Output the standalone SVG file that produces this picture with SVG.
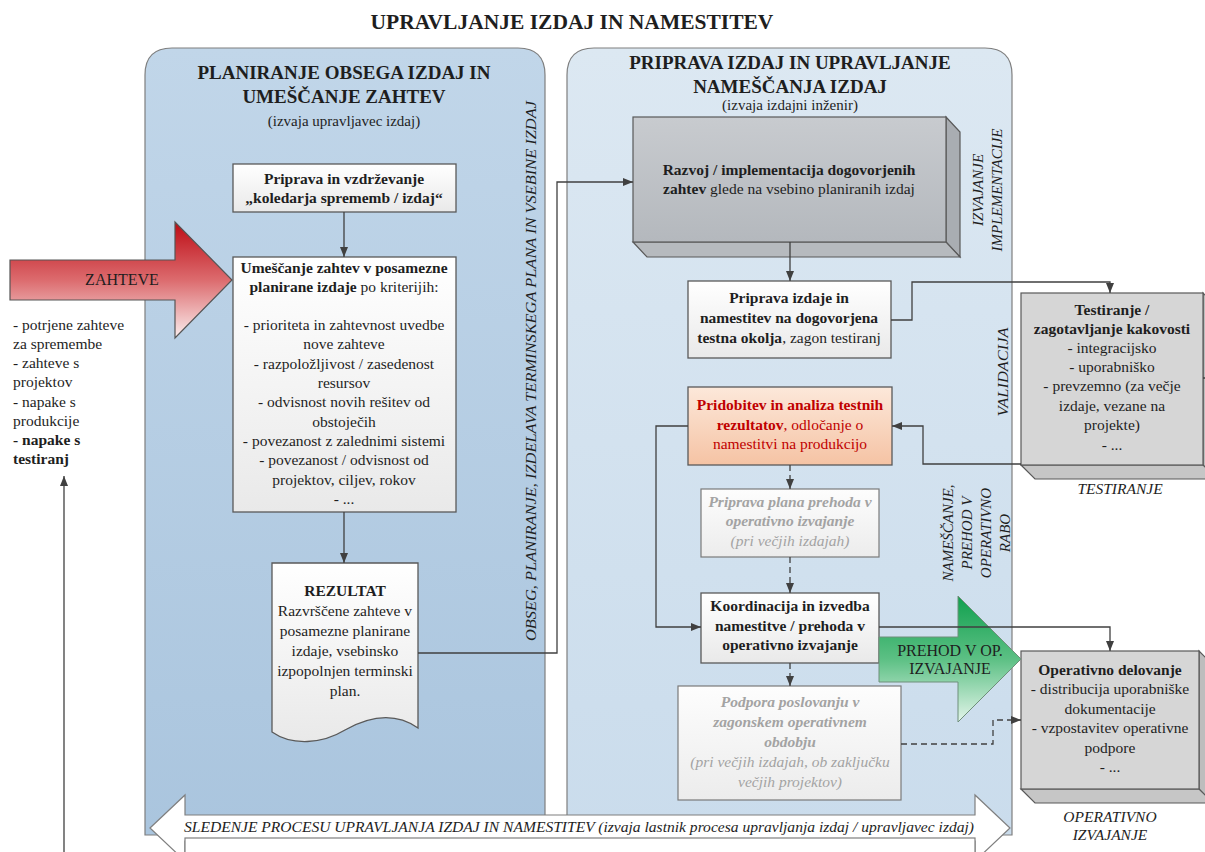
<svg xmlns="http://www.w3.org/2000/svg" width="1205" height="852" viewBox="0 0 1205 852">
  <style>
    text { font-family: "Liberation Serif", "Times New Roman", serif; fill: #1e1e1e; }
    .c { text-anchor: middle; }
    .b { font-weight: bold; }
    .i { font-style: italic; }
    .s14 { font-size: 15.5px; }
    .s13 { font-size: 15px; }
    .v { font-size: 15px; font-style: italic; text-anchor: middle; }
    .hdr { font-size: 19px; font-weight: bold; text-anchor: middle; }
    .box { stroke: #595959; stroke-width: 1.3; fill: url(#gBox); }
    .boxg { stroke: #7a7a7a; stroke-width: 1.2; fill: url(#gBoxLight); }
    .grey { fill: #a3a3a3; }
    .red { fill: #c00000; }
    .conn { fill: none; stroke: #404040; stroke-width: 1.3; }
    .dash { stroke-dasharray: 6 4; }
    .panel { stroke: #7f7f7f; stroke-width: 1.2; }
    .face { stroke: #595959; stroke-width: 1.2; }
  </style>
  <defs>
    <linearGradient id="gLeft" x1="0" y1="0" x2="0" y2="1">
      <stop offset="0" stop-color="#c1d6e9"/>
      <stop offset="1" stop-color="#aac5de"/>
    </linearGradient>
    <linearGradient id="gRight" x1="0" y1="0" x2="0" y2="1">
      <stop offset="0" stop-color="#dce8f2"/>
      <stop offset="1" stop-color="#cadcec"/>
    </linearGradient>
    <linearGradient id="gBox" x1="0" y1="0" x2="0" y2="1">
      <stop offset="0" stop-color="#ffffff"/>
      <stop offset="1" stop-color="#e9e9e9"/>
    </linearGradient>
    <linearGradient id="gBoxLight" x1="0" y1="0" x2="0" y2="1">
      <stop offset="0" stop-color="#fdfdfd"/>
      <stop offset="1" stop-color="#ececec"/>
    </linearGradient>
    <linearGradient id="gPeach" x1="0" y1="0" x2="0" y2="1">
      <stop offset="0" stop-color="#fce8da"/>
      <stop offset="1" stop-color="#f5c3a4"/>
    </linearGradient>
    <linearGradient id="gDark3d" x1="0" y1="0" x2="0" y2="1">
      <stop offset="0" stop-color="#c8cbcf"/>
      <stop offset="1" stop-color="#b4b8bd"/>
    </linearGradient>
    <linearGradient id="gRed" x1="0" y1="0" x2="0" y2="1">
      <stop offset="0" stop-color="#bd0b14"/>
      <stop offset="0.5" stop-color="#dc6b6e"/>
      <stop offset="1" stop-color="#fbeeee"/>
    </linearGradient>
    <linearGradient id="gGreen" x1="0" y1="0" x2="0" y2="1">
      <stop offset="0" stop-color="#10a04e"/>
      <stop offset="0.5" stop-color="#5cc084"/>
      <stop offset="1" stop-color="#e3f5ea"/>
    </linearGradient>
    <marker id="arr" viewBox="0 0 10 8" refX="10" refY="4" markerWidth="10" markerHeight="8" markerUnits="userSpaceOnUse" orient="auto">
      <path d="M0,0 L10,4 L0,8 z" fill="#404040"/>
    </marker>
  </defs>

  <rect width="1205" height="852" fill="#ffffff"/>

  <!-- title -->
  <text x="572" y="29" class="c b" font-size="21.5">UPRAVLJANJE IZDAJ IN NAMESTITEV</text>

  <!-- swimlane panels -->
  <g id="lane-planning">
    <path class="panel" fill="url(#gLeft)" d="M145,835 V75 Q145,48 172,48 H518 Q545,48 545,75 V835 Z"/>
    <text x="344" y="79" class="hdr">PLANIRANJE OBSEGA IZDAJ IN</text>
    <text x="344" y="103" class="hdr">UMEŠČANJE ZAHTEV</text>
    <text x="344" y="126" class="c s13">(izvaja upravljavec izdaj)</text>
    <text transform="translate(536,371) rotate(-90)" class="v" font-size="17" textLength="540" lengthAdjust="spacingAndGlyphs">OBSEG, PLANIRANJE, IZDELAVA TERMINSKEGA PLANA IN VSEBINE IZDAJ</text>
  </g>
  <g id="lane-release">
    <path class="panel" fill="url(#gRight)" d="M567,835 V75 Q567,48 594,48 H985 Q1012,48 1012,75 V835 Z"/>
    <text x="790" y="69" class="hdr">PRIPRAVA IZDAJ IN UPRAVLJANJE</text>
    <text x="790" y="93" class="hdr">NAMEŠČANJA IZDAJ</text>
    <text x="790" y="110" class="c s13">(izvaja izdajni inženir)</text>
    <text transform="translate(983,190) rotate(-90)" class="v">IZVAJANJE</text>
    <text transform="translate(1002,190) rotate(-90)" class="v">IMPLEMENTACIJE</text>
    <text transform="translate(1008,372) rotate(-90)" class="v" font-size="16.5" textLength="89" lengthAdjust="spacingAndGlyphs">VALIDACIJA</text>
    <text transform="translate(953,533) rotate(-90)" class="v">NAMEŠČANJE,</text>
    <text transform="translate(972,533) rotate(-90)" class="v">PREHOD V</text>
    <text transform="translate(991,533) rotate(-90)" class="v">OPERATIVNO</text>
    <text transform="translate(1010,533) rotate(-90)" class="v">RABO</text>
  </g>

  <!-- bottom process-tracking band -->
  <g id="tracking">
    <polygon points="150,828 185,795 185,815 975,815 975,795 1010,828 975,861 975,841 185,841 185,861" fill="#ffffff" stroke="#7f7f7f" stroke-width="1.2"/>
    <rect x="185" y="838" width="790" height="30" fill="#ffffff" stroke="#7f7f7f" stroke-width="1.2"/>
    <text x="579" y="832" class="c i" font-size="15" textLength="790" lengthAdjust="spacingAndGlyphs">SLEDENJE PROCESU UPRAVLJANJA IZDAJ IN NAMESTITEV (izvaja lastnik procesa upravljanja izdaj / upravljavec izdaj)</text>
  </g>

  <!-- incoming requests -->
  <g id="zahteve">
    <polygon points="10,260 175,260 175,222 232,280 175,338 175,300 10,300" fill="url(#gRed)" stroke="#555555" stroke-width="1.2"/>
    <text x="122" y="285" class="c" font-size="16">ZAHTEVE</text>
  </g>
  <g id="zahteve-list">
    <text x="13" y="330" class="s14">- potrjene zahteve</text>
    <text x="13" y="349" class="s14">za spremembe</text>
    <text x="13" y="368" class="s14">- zahteve s</text>
    <text x="13" y="387" class="s14">projektov</text>
    <text x="13" y="407" class="s14">- napake s</text>
    <text x="13" y="426" class="s14">produkcije</text>
    <text x="13" y="445" class="s14 b">- napake s</text>
    <text x="13" y="464" class="s14 b">testiranj</text>
  </g>

  <!-- planning lane nodes -->
  <g id="koledar">
    <rect class="box" x="233" y="164" width="223" height="48"/>
    <text x="344" y="184" class="c b s14">Priprava in vzdrževanje</text>
    <text x="344" y="203" class="c b s14">„koledarja sprememb / izdaj“</text>
  </g>
  <g id="umescanje">
    <rect class="box" x="233" y="257" width="223" height="255"/>
    <text x="344" y="273" class="c s14"><tspan class="b">Umeščanje zahtev v posamezne</tspan></text>
    <text x="344" y="292" class="c s14"><tspan class="b">planirane izdaje</tspan> po kriterijih:</text>
    <text x="344" y="330" class="c s14">- prioriteta in zahtevnost uvedbe</text>
    <text x="344" y="349" class="c s14">nove zahteve</text>
    <text x="344" y="369" class="c s14">- razpoložljivost / zasedenost</text>
    <text x="344" y="388" class="c s14">resursov</text>
    <text x="344" y="407" class="c s14">- odvisnost novih rešitev od</text>
    <text x="344" y="427" class="c s14">obstoječih</text>
    <text x="344" y="446" class="c s14">- povezanost z zalednimi sistemi</text>
    <text x="344" y="465" class="c s14">- povezanost / odvisnost od</text>
    <text x="344" y="485" class="c s14">projektov, ciljev, rokov</text>
    <text x="344" y="504" class="c s14">- ...</text>
  </g>
  <g id="rezultat">
    <path class="box" d="M272,563 H418 V728 C395,712 370,716 345,730 C322,744 292,746 272,732 Z"/>
    <text x="345" y="596" class="c b s14">REZULTAT</text>
    <text x="345" y="616" class="c s14">Razvrščene zahteve v</text>
    <text x="345" y="636" class="c s14">posamezne planirane</text>
    <text x="345" y="656" class="c s14">izdaje, vsebinsko</text>
    <text x="345" y="676" class="c s14">izpopolnjen terminski</text>
    <text x="345" y="696" class="c s14">plan.</text>
  </g>

  <!-- release lane nodes -->
  <g id="razvoj">
    <polygon class="face" points="946,117 960,132 960,257 946,242" fill="#a9adb2"/>
    <polygon class="face" points="633,242 946,242 960,257 647,257" fill="#b6babe"/>
    <rect class="face" x="633" y="117" width="313" height="125" fill="url(#gDark3d)"/>
    <text x="789" y="175" class="c b s14">Razvoj / implementacija dogovorjenih</text>
    <text x="789" y="194" class="c s14"><tspan class="b">zahtev</tspan> glede na vsebino planiranih izdaj</text>
  </g>
  <g id="priprava-izdaje">
    <rect class="box" x="688" y="281" width="203" height="77"/>
    <text x="789" y="303" class="c b s14">Priprava izdaje in</text>
    <text x="789" y="323" class="c b s14">namestitev na dogovorjena</text>
    <text x="789" y="343" class="c s14"><tspan class="b">testna okolja</tspan>, zagon testiranj</text>
  </g>
  <g id="pridobitev">
    <rect x="688" y="387" width="204" height="78" fill="url(#gPeach)" stroke="#595959" stroke-width="1.3"/>
    <text x="790" y="410" class="c b s14 red">Pridobitev in analiza testnih</text>
    <text x="790" y="430" class="c s14 red"><tspan class="b">rezultatov</tspan>, odločanje o</text>
    <text x="790" y="449" class="c s14 red">namestitvi na produkcijo</text>
  </g>
  <g id="plan-prehoda">
    <rect class="boxg" x="701" y="489" width="178" height="68"/>
    <text x="790" y="507" class="c b i s14 grey">Priprava plana prehoda v</text>
    <text x="790" y="526" class="c b i s14 grey">operativno izvajanje</text>
    <text x="790" y="546" class="c i s14 grey">(pri večjih izdajah)</text>
  </g>
  <g id="koordinacija">
    <rect class="box" x="701" y="593" width="178" height="70"/>
    <text x="790" y="611" class="c b s14">Koordinacija in izvedba</text>
    <text x="790" y="631" class="c b s14">namestitve / prehoda v</text>
    <text x="790" y="650" class="c b s14">operativno izvajanje</text>
  </g>
  <g id="podpora">
    <rect class="boxg" x="678" y="686" width="223" height="114"/>
    <text x="790" y="707" class="c b i s14 grey">Podpora poslovanju v</text>
    <text x="790" y="727" class="c b i s14 grey">zagonskem operativnem</text>
    <text x="790" y="747" class="c b i s14 grey">obdobju</text>
    <text x="790" y="767" class="c i s14 grey">(pri večjih izdajah, ob zaključku</text>
    <text x="790" y="787" class="c i s14 grey">večjih projektov)</text>
  </g>

  <!-- external activity blocks -->
  <g id="testiranje">
    <polygon class="face" points="1203,293 1217,307 1217,479 1203,465" fill="#bdbdbd"/>
    <polygon class="face" points="1021,465 1203,465 1217,479 1035,479" fill="#c6c6c6"/>
    <rect class="face" x="1021" y="293" width="182" height="172" fill="#d6d6d6"/>
    <text x="1112" y="315" class="c b s14">Testiranje /</text>
    <text x="1112" y="334" class="c b s14">zagotavljanje kakovosti</text>
    <text x="1112" y="353" class="c s14">- integracijsko</text>
    <text x="1112" y="372" class="c s14">- uporabniško</text>
    <text x="1112" y="391" class="c s14">- prevzemno (za večje</text>
    <text x="1112" y="411" class="c s14">izdaje, vezane na</text>
    <text x="1112" y="430" class="c s14">projekte)</text>
    <text x="1112" y="450" class="c s14">- ...</text>
    <text x="1120" y="494" class="c i s14">TESTIRANJE</text>
  </g>
  <g id="operativno">
    <polygon class="face" points="1199,651 1213,665 1213,803 1199,789" fill="#bdbdbd"/>
    <polygon class="face" points="1021,789 1199,789 1213,803 1035,803" fill="#c6c6c6"/>
    <rect class="face" x="1021" y="651" width="178" height="138" fill="#d6d6d6"/>
    <text x="1110" y="675" class="c b s14">Operativno delovanje</text>
    <text x="1110" y="694" class="c s14">- distribucija uporabniške</text>
    <text x="1110" y="714" class="c s14">dokumentacije</text>
    <text x="1110" y="733" class="c s14">- vzpostavitev operativne</text>
    <text x="1110" y="753" class="c s14">podpore</text>
    <text x="1110" y="772" class="c s14">- ...</text>
    <text x="1110" y="822" class="c i s14">OPERATIVNO</text>
    <text x="1110" y="840" class="c i s14">IZVAJANJE</text>
  </g>

  <!-- hand-over to operations -->
  <g id="prehod">
    <polygon points="879,637 958,637 958,596 1021,659 958,722 958,682 879,682" fill="url(#gGreen)" stroke="#6f8f7a" stroke-width="1"/>
    <text x="950" y="656" class="c" font-size="16">PREHOD V OP.</text>
    <text x="950" y="674" class="c" font-size="16">IZVAJANJE</text>
  </g>

  <!-- connectors -->
  <g id="connectors">
    <path class="conn" d="M64,852 V476" marker-end="url(#arr)"/>
    <path class="conn" d="M344,212 V257" marker-end="url(#arr)"/>
    <path class="conn" d="M344,512 V563" marker-end="url(#arr)"/>
    <path class="conn" d="M418,653 H557 V182 H633" marker-end="url(#arr)"/>
    <path class="conn" d="M790,242 V281" marker-end="url(#arr)"/>
    <path class="conn" d="M891,320 H912 V282 H1110 V293" marker-end="url(#arr)"/>
    <path class="conn" d="M1203,378 H1210"/>
    <path class="conn" d="M1021,464 H923 V426 H892" marker-end="url(#arr)"/>
    <path class="conn" d="M688,426 H656 V627 H701" marker-end="url(#arr)"/>
    <path class="conn dash" d="M790,465 V489" marker-end="url(#arr)"/>
    <path class="conn dash" d="M790,557 V593" marker-end="url(#arr)"/>
    <path class="conn dash" d="M790,663 V686" marker-end="url(#arr)"/>
    <path class="conn" d="M879,627 H1110 V651" marker-end="url(#arr)"/>
    <path class="conn dash" d="M901,744 H993 V720 H1021" marker-end="url(#arr)"/>
  </g>
</svg>
